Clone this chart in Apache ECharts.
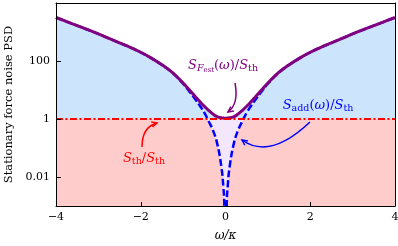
<!DOCTYPE html>
<html><head><meta charset="utf-8">
<script src="https://cdn.jsdelivr.net/npm/echarts@6/dist/echarts.min.js"></script>
<style>html,body{margin:0;padding:0;background:#fff}#c{width:398px;height:246px}</style>
</head><body><div id="c"></div>
<script>
// omega / kappa
const omega = [-4,-3.75,-3.5,-3.25,-3,-2.75,-2.5,-2.25,-2,-1.75,-1.5,-1.25,-1,-0.85,-0.7,-0.6,-0.5,-0.4,-0.3,-0.2,-0.1,-0.05,-0.03,0,
               0.03,0.05,0.1,0.2,0.3,0.4,0.5,0.6,0.7,0.85,1,1.25,1.5,1.75,2,2.25,2.5,2.75,3,3.25,3.5,3.75,4];
// S_Fest(omega)/S_th
const sFest = [3160,2290,1660,1200,860,600,420,295,200,126,74,40,17.4,10,5.65,3.9,2.75,2.0,1.5,1.2,1.1,1.08,1.07,1.07,
               1.07,1.08,1.1,1.2,1.5,2.0,2.75,3.9,5.65,10,17.4,40,74,126,200,295,420,600,860,1200,1660,2290,3160];
// S_add(omega)/S_th
const sAdd = [3159,2289,1659,1199,859,599,419,294,199,125,73,39,16.4,8.8,4.5,2.8,1.65,0.85,0.42,0.15,0.024,0.0045,0.0013,0.000001,
              0.0013,0.0045,0.024,0.15,0.42,0.85,1.65,2.8,4.5,8.8,16.4,39,73,125,199,294,419,599,859,1199,1659,2289,3159];
// S_th/S_th
const thX = [-4, 4];
const thY = [1, 1];
const yTicks = [0.01, 1, 100];

const FONT = 'DejaVu Serif';
const pts = (xs, ys) => xs.map((x, i) => [x, ys[i]]);
const chart = echarts.init(document.getElementById('c'), null, {renderer: 'canvas'});
const fmtX = v => String(v).replace('-', '\u2212');

const base = {type: 'line', symbol: 'none', silent: true, animation: false, smooth: 0.45};
const option = {
  animation: false,
  backgroundColor: '#fff',
  grid: {left: 56, right: 3, top: 3, bottom: 40, show: false, outerBoundsMode: 'none', containLabel: false},
  xAxis: [{
    type: 'value', min: -4, max: 4, interval: 2, z: 10,
    axisLine: {show: true, onZero: false, lineStyle: {color: '#000', width: 1}},
    axisTick: {show: true, inside: true, length: 4, lineStyle: {color: '#000'}},
    axisLabel: {color: '#000', fontFamily: FONT, fontSize: 11, margin: 6, formatter: fmtX},
    splitLine: {show: false},
    name: 'ω/κ', nameLocation: 'middle', nameGap: 24,
    nameTextStyle: {color: '#000', fontFamily: FONT, fontSize: 12, fontStyle: 'italic'}
  }, {
    type: 'value', min: -4, max: 4, position: 'top', z: 10,
    axisLine: {show: true, onZero: false, lineStyle: {color: '#000', width: 1}},
    axisTick: {show: false}, axisLabel: {show: false}, splitLine: {show: false}
  }],
  yAxis: [{
    type: 'log', logBase: 10, min: 0.001, max: 10000, z: 10,
    axisLine: {show: true, onZero: false, lineStyle: {color: '#000', width: 1}},
    axisTick: {show: true, inside: true, length: 5, customValues: yTicks, lineStyle: {color: '#000'}},
    axisLabel: {color: '#000', fontFamily: FONT, fontSize: 11, margin: 6, customValues: yTicks,
      formatter: v => (Math.abs(v - 0.01) < 1e-9 ? '0.01' : String(Math.round(v)))},
    minorTick: {show: false},
    splitLine: {show: false},
    name: 'Stationary force noise PSD', nameLocation: 'middle', nameGap: 35,
    nameTextStyle: {color: '#000', fontFamily: FONT, fontSize: 11.5}
  }, {
    type: 'log', logBase: 10, min: 0.001, max: 10000, position: 'right', z: 10,
    axisLine: {show: true, onZero: false, lineStyle: {color: '#000', width: 1}},
    axisTick: {show: false}, axisLabel: {show: false}, splitLine: {show: false}
  }],
  series: [
    Object.assign({}, base, {name: 'festFill', data: pts(omega, sFest), z: 1,
      lineStyle: {width: 0}, areaStyle: {color: '#cce4fc', opacity: 1, origin: 'start'}}),
    Object.assign({}, base, {name: 'thFill', data: pts(thX, thY), z: 1, smooth: false,
      lineStyle: {width: 0}, areaStyle: {color: '#f4e6fc', opacity: 1, origin: 'start'}}),
    Object.assign({}, base, {name: 'addFill', data: pts(omega, sAdd.map(v => Math.min(v, 1))), z: 1,
      lineStyle: {width: 0}, areaStyle: {color: '#ffcccc', opacity: 1, origin: 'start'}}),
    Object.assign({}, base, {name: 'S_add', data: pts(omega, sAdd), z: 3,
      lineStyle: {color: '#0000ff', width: 2.5, type: [7, 3]}}),
    Object.assign({}, base, {name: 'S_Fest', data: pts(omega, sFest), z: 4,
      lineStyle: {color: '#800080', width: 3}}),
    Object.assign({}, base, {name: 'S_th', data: pts(thX, thY), z: 5, smooth: false,
      lineStyle: {color: '#ff0000', width: 2, type: [7, 2.5, 2, 2.5]}})
  ],
  graphic: []
};
chart.setOption(option);

function arrow(x0, y0, cx, cy, x1, y1, color) {
  const dx = x1 - cx, dy = y1 - cy, L = Math.hypot(dx, dy);
  const ux = dx / L, uy = dy / L, h = 6, a = Math.PI / 7;
  const rot = (ang) => [x1 - h * (ux * Math.cos(ang) - uy * Math.sin(ang)), y1 - h * (ux * Math.sin(ang) + uy * Math.cos(ang))];
  return [
    {type: 'bezierCurve', z: 20, shape: {x1: x0, y1: y0, x2: x1, y2: y1, cpx1: cx, cpy1: cy},
      style: {stroke: color, lineWidth: 1.5, fill: null}},
    {type: 'polyline', z: 20, shape: {points: [rot(a), [x1, y1], rot(-a)]},
      style: {stroke: color, lineWidth: 1.5, fill: null}}
  ];
}
function label(x, y, text, color) {
  return {type: 'text', z: 20, x: x, y: y, style: {
    text: text, fill: color, fontFamily: FONT, fontSize: 13, align: 'center', verticalAlign: 'middle',
    rich: {
      s: {fontStyle: 'italic', fontSize: 13, fill: color, fontFamily: FONT, lineHeight: 16, verticalAlign: 'middle'},
      n: {fontSize: 13, fill: color, fontFamily: FONT, lineHeight: 16, verticalAlign: 'middle'},
      f: {fontStyle: 'italic', fontSize: 9.5, fill: color, fontFamily: FONT, lineHeight: 8, verticalAlign: 'bottom'},
      u: {fontSize: 9.5, fill: color, fontFamily: FONT, lineHeight: 8, verticalAlign: 'bottom'},
      e: {fontSize: 7, fill: color, fontFamily: FONT, lineHeight: 4, verticalAlign: 'bottom'}
    }}};
}
const purple = '#800080', blue = '#0000ff', red = '#ff0000';
chart.setOption({graphic: [].concat(
  [label(223, 66, '{s|S}{f|F}{e|est}{n|(}{s|ω}{n|)/}{s|S}{u|th}', purple)],
  arrow(235, 83, 239, 104, 228, 112, purple),
  [label(318, 106, '{s|S}{u|add}{n|(}{s|ω}{n|)/}{s|S}{u|th}', blue)],
  arrow(310, 122, 270, 160, 242, 140, blue),
  [label(144, 159, '{s|S}{u|th}{n|/}{s|S}{u|th}', red)],
  arrow(142, 147, 142, 127, 157, 123, red)
)});
</script></body></html>
